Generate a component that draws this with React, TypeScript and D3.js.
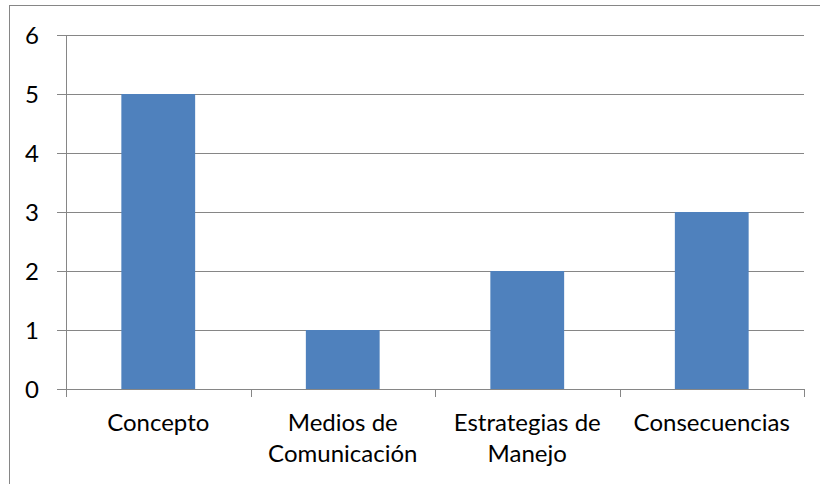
import React from "react";
import * as d3 from "d3";

const categories: string[][] = [
  ["Concepto"],
  ["Medios de", "Comunicación"],
  ["Estrategias de", "Manejo"],
  ["Consecuencias"],
];
const values: number[] = [5, 1, 2, 3];
const yTicks: number[] = [0, 1, 2, 3, 4, 5, 6];

const W = 820;
const H = 484;
const left = 66;
const right = 804;
const top = 35;
const bottom = 389;
const FONT = "Lato, 'Open Sans', sans-serif";
const FS = 24;
const GRID = "#868686";

export default function App() {
  const keys = categories.map((c) => c.join(" "));
  const x = d3.scaleBand<string>().domain(keys).range([left, right]).paddingInner(0.6).paddingOuter(0.3);
  const xOuter = d3.scaleBand<string>().domain(keys).range([left, right]);
  const y = d3.scaleLinear().domain([0, 6]).range([bottom, top]);

  return (
    <svg width={W} height={H} style={{ position: "absolute", left: 0, top: 0, background: "#fff" }}>
      <rect x={9.5} y={5.5} width={W + 20} height={H + 20} fill="#fff" stroke={GRID} strokeWidth={1} />
      {yTicks.map((t) => (
        <g key={t}>
          <line x1={57} x2={right} y1={Math.round(y(t)) + 0.5} y2={Math.round(y(t)) + 0.5} stroke={GRID} strokeWidth={1} />
          <text x={39} y={y(t)} dy="0.36em" textAnchor="end" fontFamily={FONT} fontSize={FS} fill="#000">
            {t}
          </text>
        </g>
      ))}
      {keys.map((k, i) => (
        <rect key={k} x={x(k)} y={y(values[i])} width={x.bandwidth()} height={y(0) - y(values[i])} fill="#4F81BD" />
      ))}
      <line x1={left + 0.5} x2={left + 0.5} y1={top} y2={bottom} stroke={GRID} strokeWidth={1} />
      {[...keys.map((k) => xOuter(k) as number), right].map((tx, i) => (
        <line key={i} x1={Math.round(tx) + 0.5} x2={Math.round(tx) + 0.5} y1={bottom} y2={bottom + 8} stroke={GRID} strokeWidth={1} />
      ))}
      {categories.map((lines, i) => (
        <text key={i} textAnchor="middle" fontFamily={FONT} fontSize={FS} fill="#000">
          {lines.map((ln, j) => (
            <tspan key={j} x={(xOuter(keys[i]) as number) + xOuter.bandwidth() / 2} y={431 + j * 30.5}>
              {ln}
            </tspan>
          ))}
        </text>
      ))}
    </svg>
  );
}
